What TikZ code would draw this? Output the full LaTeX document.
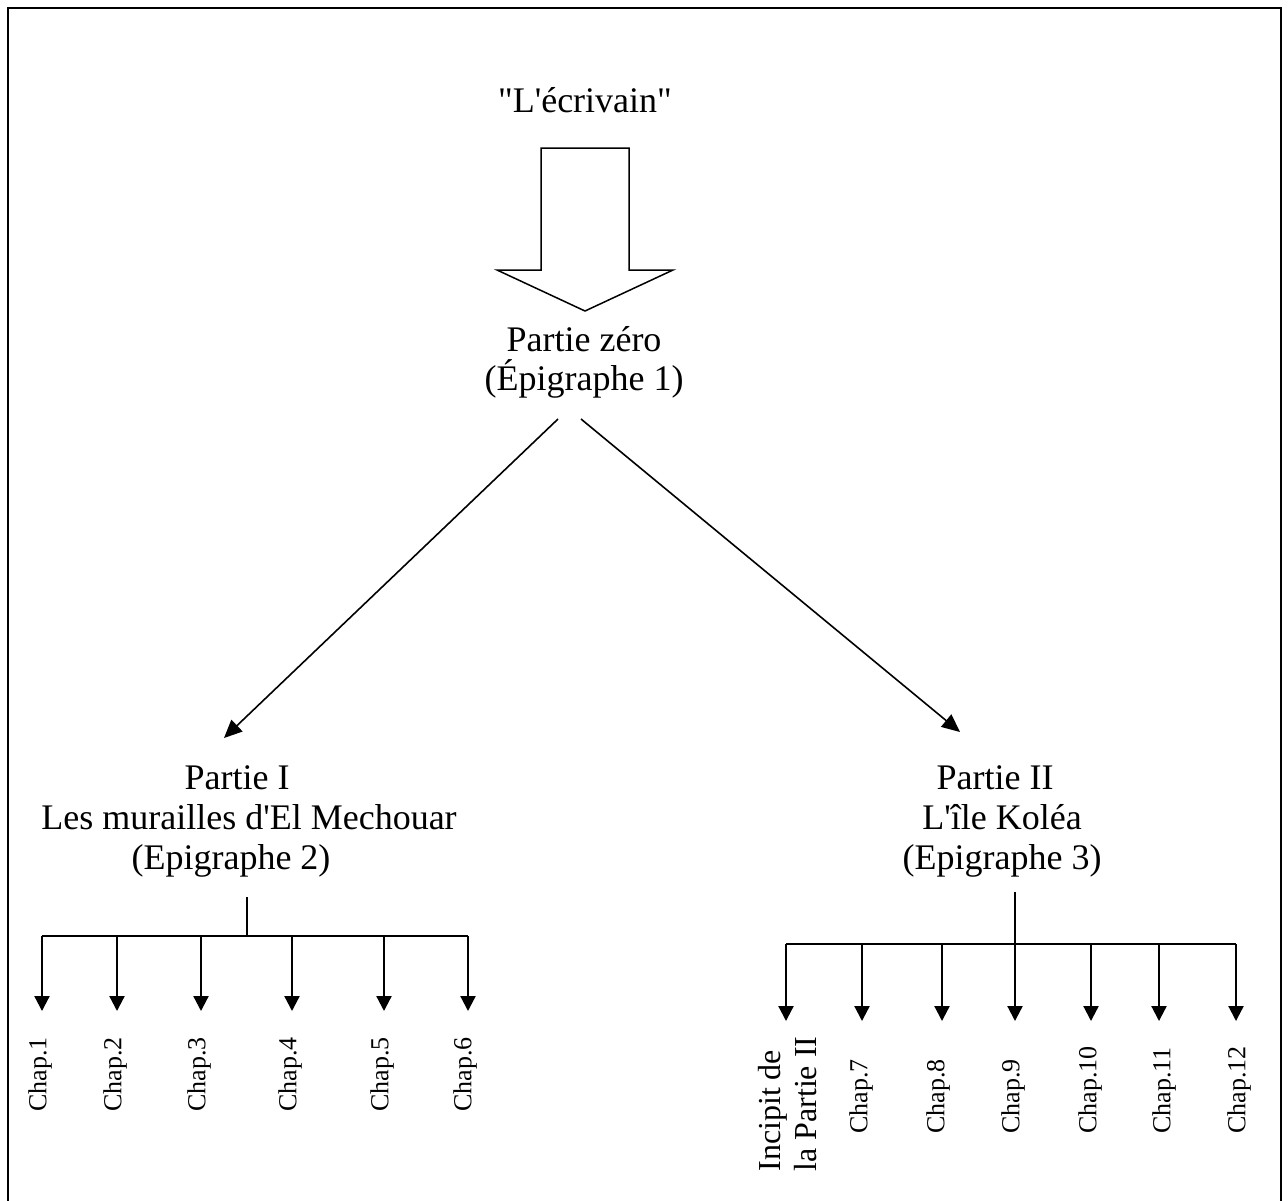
\documentclass[tikz,border=0pt]{standalone}
\usepackage{fontspec}
\setmainfont{Liberation Serif}[Ligatures=TeXOff]
\usetikzlibrary{arrows.meta}
\begin{document}
\begin{tikzpicture}[x=0.5pt,y=-0.5pt,
  big/.style={font=\fontsize{18}{20}\selectfont, inner sep=0pt, anchor=base},
  chap/.style={font=\fontsize{13}{15}\selectfont, inner sep=0pt, rotate=90, anchor=west},
  inc/.style={font=\fontsize{16}{18}\selectfont, inner sep=0pt, rotate=90, anchor=west, align=left},
  conn/.style={line width=1.1pt},
  drop/.style={line width=1.1pt, -{Triangle[width=7.5pt,length=7.5pt]}},
  diag/.style={line width=0.8pt, -{Triangle[width=8pt,length=9pt]}},
  frame/.style={line width=1.1pt},
  blockarrow/.style={line width=0.75pt, line join=miter}
]
\useasboundingbox (0,0) rectangle (1288,1200);
% outer frame (open at bottom)
\draw[frame] (8,1210) -- (8,8) -- (1281,8) -- (1281,1210);

% top
\node[big] (ecr) at (585,112) {"L'écrivain"};
\draw[blockarrow] (541,148) -- (629,148) -- (629,270) -- (673,270) -- (585,311) -- (497,270) -- (541,270) -- cycle;
\node[big] (p0a) at (584,351) {Partie zéro};
\node[big] (p0b) at (584,390) {(Épigraphe 1)};

% part I
\node[big] (p1a) at (237,789) {Partie I};
\node[big] (p1b) at (249,829) {Les murailles d'El Mechouar};
\node[big] (p1c) at (231,869) {(Epigraphe 2)};

% part II
\node[big] (p2a) at (995,789) {Partie II};
\node[big] (p2b) at (1002,829) {L'île Koléa};
\node[big] (p2c) at (1002,869) {(Epigraphe 3)};

% diagonal arrows
\coordinate (dL0) at (558,419);
\coordinate (dL1) at (224,738);
\coordinate (dR0) at (581,419);
\coordinate (dR1) at (960,732);
\draw[diag] (dL0) -- (dL1);
\draw[diag] (dR0) -- (dR1);

% left tree
\coordinate (sL0) at (247,897);
\coordinate (sL1) at (247,936);
\draw[conn] (sL0) -- (sL1);
\draw[conn] (42,936) coordinate (bL0) -- (468,936) coordinate (bL1);
\foreach \x/\n [count=\i] in {42/1,117/2,201/3,292/4,384/5,468/6}{
  \coordinate (lt\i) at (\x,936);
  \coordinate (lh\i) at (\x,1011);
  \draw[drop] (lt\i) -- (lh\i);
}
\foreach \x/\n in {40/1,115/2,199/3,290/4,382/5,465/6}{
  \node[chap] (ch\n) at (\x,1112) {Chap.\n};
}

% right tree
\coordinate (sR0) at (1015,892);
\coordinate (sR1) at (1015,944);
\draw[conn] (sR0) -- (sR1);
\draw[conn] (786,944) coordinate (bR0) -- (1236,944) coordinate (bR1);
\foreach \x [count=\i] in {786,862,942,1015,1091,1159,1236}{
  \coordinate (rt\i) at (\x,944);
  \coordinate (rh\i) at (\x,1021);
  \draw[drop] (rt\i) -- (rh\i);
}
\node[inc] (incipit) at (788,1172) {Incipit de\\la Partie II};
\foreach \x/\n in {861/7,938/8,1013/9,1090/10,1164/11,1239/12}{
  \node[chap] (ch\n) at (\x,1134) {Chap.\n};
}
\end{tikzpicture}
\end{document}
